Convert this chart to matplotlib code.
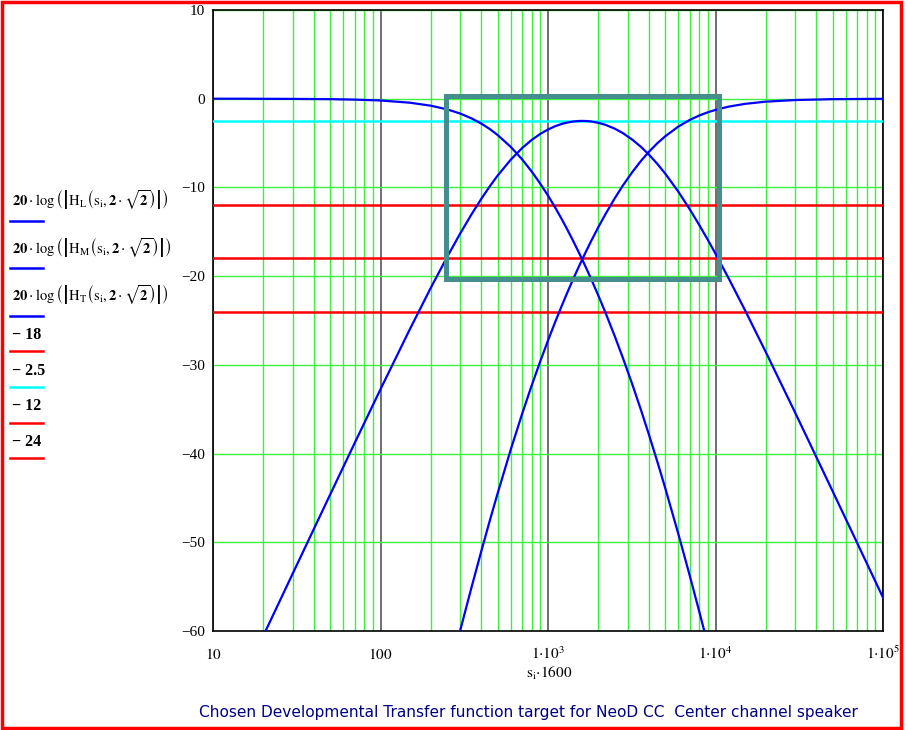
import matplotlib
matplotlib.use('Agg')
import matplotlib.pyplot as plt
from matplotlib.patches import Rectangle
from matplotlib.lines import Line2D
from matplotlib.ticker import FixedLocator, FixedFormatter, LogLocator, NullFormatter

# frequency axis (s_i * 1600) and responses in dB
freq = [10, 15, 20, 30, 50, 70, 100, 150, 200, 250, 300, 350, 400, 450, 500,
        600, 700, 800, 900, 1000, 1100, 1200, 1300, 1400, 1500, 1600, 1700,
        1800, 2000, 2200, 2500, 2800, 3200, 3600, 4000, 4500, 5000, 6000,
        7000, 8000, 9000, 10000, 12000, 15000, 20000, 30000, 50000, 70000,
        100000]
h_low = [0.0, 0.0, -0.01, -0.02, -0.05, -0.10, -0.20, -0.45, -0.79, -1.20,
         -1.68, -2.22, -2.81, -3.43, -4.09, -5.44, -6.83, -8.22, -9.59,
         -10.92, -12.22, -13.48, -14.70, -15.88, -17.02, -18.12, -19.19,
         -20.22, -22.21, -24.09, -26.74, -29.22, -32.30, -35.16, -37.83,
         -40.94, -43.83, -49.06, -53.68, -57.81, -61.54, -64.93]
h_mid = [-72.55, -65.51, -60.51, -53.48, -44.64, -38.84, -32.75, -25.95,
         -21.29, -17.83, -15.15, -13.01, -11.28, -9.85, -8.67, -6.86, -5.57,
         -4.64, -3.96, -3.47, -3.11, -2.86, -2.69, -2.58, -2.52, -2.50,
         -2.52, -2.56, -2.72, -2.94, -3.37, -3.88, -4.64, -5.45, -6.29,
         -7.36, -8.42, -10.48, -12.43, -14.24, -15.91, -17.47, -20.27,
         -23.84, -28.59, -35.45, -44.23, -50.05, -56.23]
h_high = [-65.70, -59.84, -55.03, -50.98, -47.51, -44.50, -39.52, -35.55,
          -32.30, -29.58, -27.25, -25.24, -23.48, -21.91, -20.51, -19.26,
          -18.12, -17.08, -16.13, -14.46, -13.03, -11.24, -9.78, -8.22,
          -6.98, -5.99, -5.01, -4.25, -3.14, -2.40, -1.89, -1.53, -1.26,
          -0.89, -0.58, -0.33, -0.15, -0.05, -0.03, -0.01]
high_start = 250

levels = [-18, -2.5, -12, -24]
level_colors = ['#ff0000', '#00ffff', '#ff0000', '#ff0000']
level_labels = ['\u2212 18', '\u2212 2.5', '\u2212 12', '\u2212 24']

y_ticks = [10, 0, -10, -20, -30, -40, -50, -60]
y_labels = ['10', '0', '\u221210', '\u221220', '\u221230', '\u221240', '\u221250', '\u221260']
x_ticks = [10, 100, 1000, 10000, 100000]
x_labels = [r'$10$', r'$100$', r'$1{\cdot}10^{3}$', r'$1{\cdot}10^{4}$', r'$1{\cdot}10^{5}$']

# highlighted design window
box_f = (245, 10500)
box_db = (-20.3, 0.3)

plt.rcParams['mathtext.fontset'] = 'stix'
plt.rcParams['font.family'] = ['Liberation Serif', 'DejaVu Serif']

W, H = 908, 730
fig = plt.figure(figsize=(W / 100, H / 100), dpi=100)


def fx(px):
    return px / W


def fy(py):
    return 1 - py / H


ax = fig.add_axes([fx(213), fy(631), fx(883) - fx(213), fy(10) - fy(631)])
ax.set_xscale('log')
ax.set_xlim(10, 1e5)
ax.set_ylim(-60, 10)

ax.xaxis.set_major_locator(FixedLocator(x_ticks))
ax.xaxis.set_major_formatter(FixedFormatter(x_labels))
ax.xaxis.set_minor_locator(LogLocator(base=10, subs=range(2, 10), numticks=20))
ax.xaxis.set_minor_formatter(NullFormatter())
ax.yaxis.set_major_locator(FixedLocator(y_ticks))
ax.yaxis.set_major_formatter(FixedFormatter(y_labels))
ax.tick_params(which='both', length=0)
ax.tick_params(axis='x', pad=20, labelsize=11)
ax.tick_params(axis='y', pad=6, labelsize=11)
for lbl in ax.get_xticklabels():
    lbl.set_va('baseline')

ax.grid(which='minor', axis='x', color='#3cf03c', lw=1.0)
ax.grid(which='major', axis='x', color='#555555', lw=1.2)
ax.grid(which='major', axis='y', color='#3cf03c', lw=1.0)
ax.set_axisbelow(True)
for sp in ax.spines.values():
    sp.set_color('black')
    sp.set_linewidth(1.2)

for lev, col in zip(levels, level_colors):
    ax.axhline(lev, color=col, lw=1.8, zorder=3)

ax.plot(freq[:len(h_low)], h_low, color='#0000ff', lw=1.6, zorder=4)
ax.plot(freq, h_mid, color='#0000ff', lw=1.6, zorder=4)
i0 = freq.index(high_start)
ax.plot(freq[i0:], h_high, color='#0000ff', lw=1.6, zorder=4)

ax.add_patch(Rectangle((box_f[0], box_db[0]), box_f[1] - box_f[0], box_db[1] - box_db[0],
                       fill=False, edgecolor='#468e8e', lw=3.6, zorder=5, clip_on=False))

fig.text(fx(549), fy(673), r'$\mathrm{s_i}{\cdot}1600$', fontsize=11, ha='center', va='center')

# legend on the left, Mathcad style
formulas = [
    r'$\mathbf{20}\cdot\log\left(\left|\mathrm{H_L}\left(\mathrm{s_i},\mathbf{2}\cdot\sqrt{\mathbf{2}}\right)\right|\right)$',
    r'$\mathbf{20}\cdot\log\left(\left|\mathrm{H_M}\left(\mathrm{s_i},\mathbf{2}\cdot\sqrt{\mathbf{2}}\right)\right|\right)$',
    r'$\mathbf{20}\cdot\log\left(\left|\mathrm{H_T}\left(\mathrm{s_i},\mathbf{2}\cdot\sqrt{\mathbf{2}}\right)\right|\right)$',
]
text_y = [200, 248, 295, 335, 371, 406, 442]
line_y = [221, 268, 316, 351, 387, 423, 458]
entries = formulas + level_labels
entry_colors = ['#0000ff'] * 3 + level_colors
for txt, ty, ly, col in zip(entries, text_y, line_y, entry_colors):
    if txt.startswith('$'):
        fig.text(fx(12), fy(ty), txt, fontsize=10.5, va='center', ha='left')
    else:
        fig.text(fx(12), fy(ty), txt, fontsize=11.5, fontweight='bold',
                 va='center', ha='left')
    fig.add_artist(Line2D([fx(10), fx(43)], [fy(ly), fy(ly)], color=col, lw=1.8))

fig.text(fx(528), fy(713), 'Chosen Developmental Transfer function target for NeoD CC  Center channel speaker',
         fontsize=11.1, color='#000080', ha='center', va='center', family='DejaVu Sans')

# red frame around the whole picture
fig.add_artist(Rectangle((fx(1.5), fy(728)), fx(901.5) - fx(1.5), fy(1.5) - fy(728),
                         fill=False, edgecolor='#ff0000', lw=2.5, transform=fig.transFigure))

fig.savefig('out.png', dpi=100, facecolor='white')
